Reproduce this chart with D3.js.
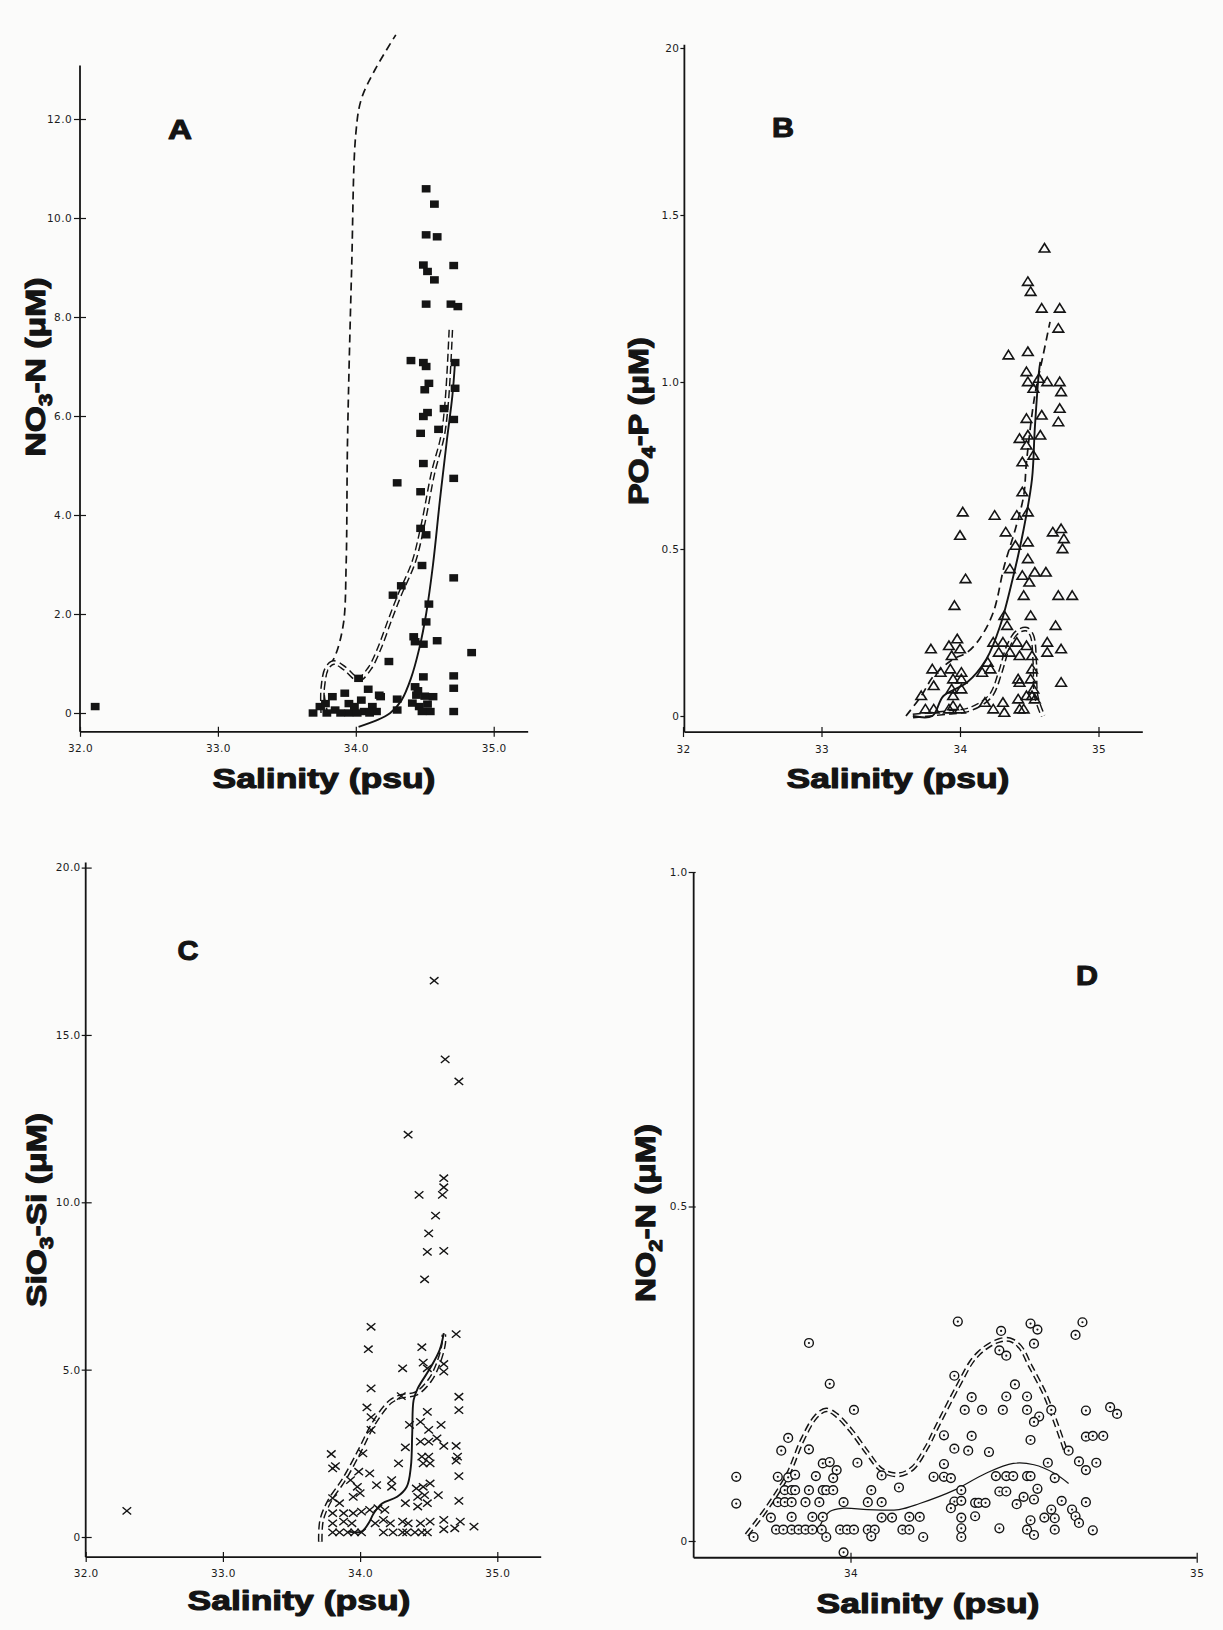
<!DOCTYPE html>
<html>
<head>
<meta charset="utf-8">
<script src="https://cdn.jsdelivr.net/npm/d3@7"></script>
<style>
  body { margin: 0; background: #fbfbfa; }
  svg { display: block; }
</style>
</head>
<body>
<svg id="fig" width="1223" height="1630"></svg>
<script>
// ---- tick values / labels ----
const nitrateTicks = [0, 2, 4, 6, 8, 10, 12];
const nitrateTickLabels = ["0", "2.0", "4.0", "6.0", "8.0", "10.0", "12.0"];
const phosphateTicks = [0, 0.5, 1, 1.5, 2];
const phosphateTickLabels = ["0", "0.5", "1.0", "1.5", "20"];
const silicateTicks = [0, 5, 10, 15, 20];
const silicateTickLabels = ["0", "5.0", "10.0", "15.0", "20.0"];
const nitriteTicks = [0, 0.5, 1];
const nitriteTickLabels = ["0", "0.5", "1.0"];
const salinityTicks = [32, 33, 34, 35];
const salinityTickLabelsA = ["32.0", "33.0", "34.0", "35.0"];
const salinityTickLabelsB = ["32", "33", "34", "35"];
const salinityTicksD = [34, 35];
const salinityTickLabelsD = ["34", "35"];

// ---- A: nitrate, [salinity, NO3-N] ----
const nitratePoints = [
  [32.11,0.13],
  [34.51,10.59],[34.57,10.28],[34.51,9.66],[34.59,9.62],[34.49,9.05],[34.52,8.92],[34.57,8.75],[34.71,9.04],
  [34.51,8.26],[34.69,8.26],[34.74,8.21],[34.40,7.12],[34.49,7.08],[34.51,7.00],[34.72,7.08],[34.72,6.56],
  [34.53,6.66],[34.50,6.53],[34.64,6.15],[34.71,5.93],[34.52,6.07],[34.49,5.99],[34.60,5.73],[34.47,5.65],
  [34.49,5.04],[34.30,4.65],[34.71,4.74],[34.47,4.47],[34.47,3.73],[34.51,3.60],[34.48,2.98],[34.71,2.73],
  [34.33,2.57],[34.27,2.38],[34.53,2.20],[34.51,1.84],[34.42,1.54],[34.43,1.44],[34.49,1.39],[34.59,1.46],
  [34.84,1.22],[34.24,1.04],[34.49,0.73],[34.71,0.75],[34.71,0.50],[34.02,0.70],[34.09,0.48],[34.17,0.36],
  [34.30,0.28],[34.43,0.53],[34.44,0.36],[34.50,0.34],[34.56,0.33],[34.46,0.13],[34.54,0.03],[34.48,0.03],
  [34.41,0.20],[34.52,0.18],[34.45,0.45],[34.71,0.03],[34.30,0.06],
  [33.69,0.00],[33.74,0.13],[33.78,0.19],[33.83,0.33],[33.85,0.06],[33.92,0.40],[33.95,0.19],[33.95,0.00],
  [33.99,0.13],[34.04,0.26],[34.06,0.03],[34.12,0.13],[34.15,0.03],[34.18,0.33],[33.79,0.00],[33.89,0.00],
  [34.01,0.00],[34.10,0.00]
];
const nitrateDashed = [[33.80,-0.05],[33.77,0.4],[33.79,0.85],[33.85,1.15],[33.91,1.8],[33.93,3.0],[33.94,5.5],
  [33.97,9.0],[34.00,11.7],[34.04,12.4],[34.14,13.0],[34.29,13.7]];
const nitrateDouble = [[33.76,0],[33.76,0.5],[33.79,0.9],[33.84,1.02],[33.92,0.9],[34.02,0.68],[34.10,0.9],
  [34.17,1.3],[34.25,1.9],[34.32,2.4],[34.42,3.05],[34.49,3.85],[34.56,4.85],[34.63,5.6],[34.66,6.3],[34.69,7.8]];
const nitrateSolid = [[34.02,-0.28],[34.15,-0.15],[34.25,0.0],[34.33,0.25],[34.40,0.7],[34.46,1.3],[34.51,2.0],
  [34.56,3.0],[34.61,4.3],[34.66,5.5],[34.70,6.4],[34.72,7.1]];

// ---- B: phosphate, [salinity, PO4-P] ----
const phosphatePoints = [
  [34.61,1.40],[34.49,1.30],[34.51,1.27],[34.59,1.22],[34.72,1.22],[34.71,1.16],[34.35,1.08],[34.49,1.09],
  [34.48,1.03],[34.49,1.00],[34.57,1.01],[34.63,1.00],[34.72,1.00],[34.73,0.97],[34.53,0.98],[34.72,0.92],
  [34.71,0.88],[34.48,0.89],[34.59,0.90],[34.43,0.83],[34.49,0.84],[34.58,0.84],[34.48,0.81],[34.53,0.78],
  [34.45,0.76],[34.45,0.67],[34.02,0.61],[34.25,0.60],[34.41,0.60],[34.49,0.61],[34.00,0.54],[34.33,0.55],
  [34.67,0.55],[34.73,0.56],[34.75,0.53],[34.74,0.50],[34.40,0.51],[34.49,0.52],[34.49,0.47],[34.36,0.44],
  [34.45,0.42],[34.54,0.43],[34.62,0.43],[34.50,0.40],[34.04,0.41],[34.46,0.36],[34.71,0.36],[34.81,0.36],
  [33.96,0.33],[34.51,0.30],[34.32,0.30],[34.34,0.27],[34.69,0.27],[33.79,0.20],[33.92,0.21],[33.98,0.23],
  [34.00,0.20],[33.94,0.18],[34.24,0.22],[34.31,0.22],[34.28,0.19],[34.36,0.19],[34.41,0.22],[34.43,0.18],
  [34.48,0.21],[34.52,0.18],[34.63,0.22],[34.63,0.19],[34.73,0.20],[33.80,0.14],[33.86,0.13],[33.93,0.14],
  [34.01,0.13],[33.81,0.09],[33.95,0.11],[33.94,0.08],[34.01,0.11],[34.01,0.08],[34.22,0.14],[34.16,0.13],
  [34.20,0.16],[34.42,0.11],[34.43,0.10],[34.51,0.11],[34.52,0.14],[34.53,0.08],[34.52,0.06],[34.73,0.10],
  [33.72,0.06],[33.75,0.02],[33.81,0.02],[33.92,0.02],[33.95,0.03],[34.00,0.02],[33.95,0.06],[34.18,0.04],
  [34.24,0.02],[34.31,0.04],[34.32,0.01],[34.42,0.05],[34.43,0.02],[34.46,0.02],[34.48,0.06],[34.54,0.05]
];
const phosphateDashed = [[33.61,0],[33.72,0.06],[33.81,0.12],[33.95,0.17],[34.05,0.19],[34.14,0.23],[34.24,0.31],
  [34.32,0.45],[34.40,0.56],[34.46,0.66],[34.48,0.76],[34.54,0.96],[34.60,1.08],[34.65,1.18]];
const phosphateSolid = [[33.66,0],[33.80,0.0],[33.88,0.06],[34.05,0.10],[34.19,0.17],[34.29,0.27],[34.38,0.41],
  [34.46,0.56],[34.52,0.71],[34.54,0.86],[34.57,1.03],[34.58,1.06]];
const phosphateDouble = [[33.66,0],[33.90,0.01],[34.07,0.02],[34.22,0.06],[34.29,0.13],[34.35,0.21],[34.41,0.25],
  [34.48,0.26],[34.52,0.24],[34.54,0.16],[34.55,0.06],[34.60,0.0]];

// ---- C: silicate, [salinity, SiO3-Si] ----
const silicatePoints = [
  [32.30,0.78],
  [34.54,16.62],[34.62,14.27],[34.72,13.61],[34.35,12.02],[34.61,10.72],[34.61,10.45],[34.60,10.22],[34.43,10.22],
  [34.55,9.60],[34.50,9.07],[34.49,8.52],[34.61,8.55],[34.47,7.70],[34.08,6.28],[34.06,5.61],[34.70,6.06],
  [34.45,5.67],[34.31,5.04],[34.46,5.21],[34.49,5.04],[34.61,5.17],[34.61,4.94],[34.08,4.44],[34.30,4.21],
  [34.72,4.19],[34.72,3.79],[34.05,3.87],[34.08,3.58],[34.49,3.74],[34.36,3.35],[34.44,3.44],[34.50,3.20],
  [34.59,3.35],[34.08,3.20],[34.56,2.95],[34.61,2.72],[34.44,2.85],[34.50,2.85],[34.33,2.68],[34.70,2.72],
  [34.71,2.40],[34.70,2.28],[33.79,2.48],[34.02,2.50],[33.80,2.05],[33.82,2.12],[34.45,2.40],[34.50,2.40],
  [34.46,2.20],[34.51,2.20],[34.28,2.20],[33.99,1.95],[34.07,1.90],[34.72,1.82],[34.23,1.70],[34.23,1.50],
  [34.12,1.55],[33.93,1.70],[33.98,1.50],[34.00,1.31],[34.41,1.45],[34.46,1.50],[34.51,1.60],[34.42,1.20],
  [34.47,1.25],[34.57,1.25],[34.72,1.08],[33.80,1.16],[33.85,1.01],[33.95,1.20],[34.49,1.01],[34.42,0.91],
  [34.33,1.01],[34.13,0.86],[34.18,0.81],[33.80,0.71],[33.88,0.71],[33.95,0.71],[34.01,0.76],[34.07,0.81],
  [33.80,0.41],[33.88,0.46],[33.94,0.41],[34.11,0.41],[34.22,0.41],[34.31,0.46],[34.35,0.41],[34.44,0.41],
  [34.51,0.46],[34.61,0.51],[34.73,0.46],[34.61,0.23],[34.69,0.26],[34.83,0.31],[34.17,0.51],
  [33.80,0.14],[33.85,0.14],[33.91,0.14],[33.96,0.14],[34.01,0.14],[34.17,0.14],[34.24,0.14],[34.31,0.14],
  [34.34,0.14],[34.40,0.14],[34.45,0.14],[34.49,0.14]
];
const silicateSolid = [[33.91,0.16],[34.01,0.16],[34.06,0.4],[34.10,0.71],[34.16,1.0],[34.27,1.2],[34.34,1.5],
  [34.37,2.1],[34.38,3.1],[34.39,4.09],[34.42,4.44],[34.51,5.04],[34.58,5.59],[34.61,6.09]];
const silicateDouble = [[33.71,-0.14],[33.72,0.51],[33.78,1.1],[33.88,1.7],[34.0,2.6],[34.10,3.4],[34.22,4.04],
  [34.29,4.19],[34.41,4.29],[34.51,4.69],[34.57,5.19],[34.61,5.79],[34.61,6.05]];

// ---- D: nitrite, [salinity, NO2-N] ----
const nitritePoints = [
  [33.88,0.296],[33.94,0.235],[34.01,0.196],[33.82,0.154],[33.80,0.135],[33.88,0.137],[33.92,0.116],[33.94,0.118],
  [34.02,0.117],[33.96,0.106],[33.67,0.096],[33.79,0.096],[33.82,0.095],[33.84,0.099],[33.90,0.097],[33.95,0.094],
  [34.09,0.098],[34.14,0.080],[33.81,0.076],[33.83,0.076],[33.84,0.076],[33.88,0.076],[33.92,0.076],[33.93,0.076],
  [33.95,0.076],[34.06,0.076],[33.67,0.056],[33.79,0.058],[33.81,0.058],[33.83,0.058],[33.87,0.058],[33.91,0.058],
  [33.98,0.058],[34.05,0.058],[34.09,0.058],[33.77,0.035],[33.83,0.036],[33.89,0.036],[33.92,0.036],[34.09,0.035],
  [34.12,0.035],[34.17,0.036],[34.20,0.036],[33.785,0.017],[33.806,0.017],[33.83,0.017],[33.85,0.017],[33.87,0.017],
  [33.89,0.017],[33.917,0.017],[33.97,0.017],[33.99,0.017],[34.01,0.017],[34.05,0.017],[34.07,0.017],[34.15,0.017],
  [34.17,0.017],[33.72,0.006],[33.93,0.006],[34.06,0.007],[34.21,0.006],[33.98,-0.017],
  [34.31,0.328],[34.435,0.314],[34.52,0.325],[34.54,0.316],[34.67,0.327],[34.65,0.308],[34.53,0.295],[34.43,0.285],
  [34.45,0.277],[34.30,0.247],[34.475,0.234],[34.35,0.215],[34.45,0.216],[34.51,0.216],[34.33,0.196],[34.38,0.196],
  [34.44,0.196],[34.51,0.196],[34.58,0.196],[34.68,0.195],[34.75,0.200],[34.77,0.190],[34.545,0.186],[34.53,0.178],
  [34.27,0.158],[34.35,0.157],[34.52,0.151],[34.63,0.135],[34.68,0.156],[34.70,0.157],[34.73,0.157],[34.30,0.138],
  [34.34,0.135],[34.40,0.133],[34.27,0.115],[34.57,0.117],[34.66,0.119],[34.68,0.106],[34.71,0.117],[34.24,0.096],
  [34.27,0.096],[34.29,0.094],[34.42,0.097],[34.45,0.097],[34.47,0.097],[34.51,0.097],[34.52,0.097],[34.59,0.094],
  [34.32,0.076],[34.43,0.074],[34.45,0.074],[34.54,0.078],[34.50,0.066],[34.48,0.055],[34.53,0.062],[34.61,0.060],
  [34.68,0.058],[34.30,0.059],[34.32,0.060],[34.29,0.049],[34.36,0.057],[34.37,0.057],[34.39,0.057],[34.32,0.035],
  [34.36,0.037],[34.58,0.047],[34.59,0.034],[34.56,0.035],[34.64,0.047],[34.65,0.037],[34.66,0.027],[34.52,0.031],
  [34.32,0.019],[34.32,0.006],[34.43,0.019],[34.51,0.017],[34.53,0.009],[34.59,0.017],[34.70,0.016]
];
const nitriteDouble = [[33.70,0.009],[33.76,0.05],[33.82,0.10],[33.86,0.15],[33.90,0.186],[33.93,0.196],[33.96,0.188],
  [34.0,0.166],[34.05,0.131],[34.09,0.106],[34.14,0.099],[34.18,0.109],[34.22,0.14],[34.25,0.171],[34.31,0.231],
  [34.36,0.275],[34.42,0.298],[34.46,0.301],[34.49,0.29],[34.52,0.261],[34.56,0.221],[34.59,0.181],[34.62,0.137]];
const nitriteSolid = [[33.91,0.021],[33.94,0.044],[33.98,0.049],[34.05,0.047],[34.14,0.047],[34.20,0.056],[34.30,0.076],
  [34.39,0.101],[34.47,0.116],[34.53,0.114],[34.59,0.101],[34.63,0.086]];

const ink = "#141414";
const paper = "#fbfbfa";
const svg = d3.select("#fig");
svg.append("rect").attr("width", 1223).attr("height", 1630).attr("fill", paper);

// Heavy label stretched to the width it has in the scan
function wideLabel(parent, parts, o) {
  let text = parent.append("text")
    .attr("font-family", "'Liberation Sans', Arial, sans-serif")
    .attr("font-weight", "bold")
    .attr("font-size", o.size)
    .attr("fill", ink)
    .attr("stroke", ink)
    .attr("stroke-width", 1.1)
    .attr("stroke-linejoin", "round");
  let shift = 0;
  parts.forEach(p => {
    let t = text.append("tspan").text(p.t);
    if (p.sub) {
      t.attr("font-size", o.size * 0.66).attr("dy", o.size * 0.24);
      shift = o.size * 0.24;
    } else if (shift) {
      t.attr("dy", -shift);
      shift = 0;
    }
  });
  let w = text.node().getBBox().width;
  let sx = o.width / w;
  text.attr("transform", `translate(${o.x},${o.y}) rotate(${o.rotate || 0}) scale(${sx},1) translate(${-w / 2},0)`);
}

const markers = {
  square: (g, x, y) => g.append("rect").attr("x", x - 4.4).attr("y", y - 3.7).attr("width", 8.8).attr("height", 7.4).attr("fill", ink),
  triangle: (g, x, y) => g.append("path").attr("d", `M${x},${y - 4.9}L${x + 5.3},${y + 3.6}L${x - 5.3},${y + 3.6}Z`)
    .attr("fill", "none").attr("stroke", ink).attr("stroke-width", 1.6),
  cross: (g, x, y) => g.append("path").attr("d", `M${x - 4.3},${y - 3.6}L${x + 4.3},${y + 3.6}M${x - 4.3},${y + 3.6}L${x + 4.3},${y - 3.6}`)
    .attr("stroke", ink).attr("stroke-width", 1.4),
  dotCircle: (g, x, y) => {
    g.append("circle").attr("cx", x).attr("cy", y).attr("r", 4.4).attr("fill", paper).attr("stroke", ink).attr("stroke-width", 1.4);
    g.append("circle").attr("cx", x).attr("cy", y).attr("r", 1.1).attr("fill", ink);
  }
};

function drawPanel(p) {
  let g = svg.append("g");
  let x = d3.scaleLinear().domain(p.xDomain).range(p.xRange);
  let y = d3.scaleLinear().domain(p.yDomain).range(p.yRange);
  let line = d3.line().x(d => x(d[0])).y(d => y(d[1])).curve(d3.curveCatmullRom.alpha(0.5));

  // curves under the symbols
  p.curves.forEach(c => {
    if (c.kind === "double") {
      g.append("path").attr("d", line(c.data)).attr("fill", "none").attr("stroke", ink)
        .attr("stroke-width", 4.8).attr("stroke-dasharray", "8,4");
      g.append("path").attr("d", line(c.data)).attr("fill", "none").attr("stroke", paper).attr("stroke-width", 1.9);
    } else if (c.kind === "dashed") {
      g.append("path").attr("d", line(c.data)).attr("fill", "none").attr("stroke", ink)
        .attr("stroke-width", 1.7).attr("stroke-dasharray", "8,5");
    } else {
      g.append("path").attr("d", line(c.data)).attr("fill", "none").attr("stroke", ink)
        .attr("stroke-width", c.width || 1.9);
    }
  });

  p.points.forEach(d => markers[p.marker](g, x(d[0]), y(d[1])));

  // axes
  let x0 = x(p.xExtent[0]), yBase = y(p.yExtent[0]);
  g.append("line").attr("x1", x0).attr("x2", x0).attr("y1", yBase).attr("y2", y(p.yExtent[1]))
    .attr("stroke", ink).attr("stroke-width", 1.8);
  g.append("line").attr("x1", x0).attr("x2", x(p.xExtent[1])).attr("y1", yBase).attr("y2", yBase)
    .attr("stroke", ink).attr("stroke-width", 1.8);

  let yAxis = d3.axisLeft(y).tickValues(p.yTicks).tickFormat((d, i) => p.yTickLabels[i])
    .tickSize(p.yTickIn).tickPadding(p.yTickPad);
  let ya = g.append("g").attr("transform", `translate(${x0},0)`).call(yAxis);
  ya.select(".domain").remove();
  ya.selectAll("line").attr("x1", p.yTickOut).attr("stroke", ink).attr("stroke-width", 1.2);

  let xAxis = d3.axisBottom(x).tickValues(p.xTicks).tickFormat((d, i) => p.xTickLabels[i])
    .tickSize(5).tickPadding(p.xTickPad);
  let xa = g.append("g").attr("transform", `translate(0,${yBase})`).call(xAxis);
  xa.select(".domain").remove();
  xa.selectAll("line").attr("y1", -5).attr("stroke", ink).attr("stroke-width", 1.2);

  g.selectAll(".tick text").attr("font-family", "'DejaVu Sans', sans-serif").attr("font-size", 10.5)
    .attr("fill", "#1c1c1c").attr("letter-spacing", 0.4);

  wideLabel(g, [{t: p.letter}], {x: p.letterAt[0], y: p.letterAt[1], size: 28, width: p.letterAt[2]});
  wideLabel(g, [{t: "Salinity (psu)"}], {x: p.xLabelAt[0], y: p.xLabelAt[1], size: 28, width: 223});
  wideLabel(g, p.yLabel, {x: p.yLabelAt[0], y: p.yLabelAt[1], size: 28, width: p.yLabelAt[2], rotate: -90});
}

drawPanel({
  xDomain: [32, 35], xRange: [80, 493.7], yDomain: [0, 12], yRange: [713, 119],
  xExtent: [32, 35.25], yExtent: [-0.38, 13.08],
  yTicks: nitrateTicks, yTickLabels: nitrateTickLabels, yTickIn: 6, yTickOut: 6, yTickPad: 2,
  xTicks: salinityTicks, xTickLabels: salinityTickLabelsA, xTickPad: 8,
  points: nitratePoints, marker: "square",
  curves: [{kind: "dashed", data: nitrateDashed}, {kind: "double", data: nitrateDouble}, {kind: "solid", data: nitrateSolid}],
  letter: "A", letterAt: [180, 139, 24],
  xLabelAt: [324, 788],
  yLabel: [{t: "NO"}, {t: "3", sub: true}, {t: "-N (μM)"}], yLabelAt: [45, 367, 179]
});

drawPanel({
  xDomain: [32, 35], xRange: [683, 1098.5], yDomain: [0, 2], yRange: [716, 48],
  xExtent: [32.01, 35.32], yExtent: [-0.048, 2.01],
  yTicks: phosphateTicks, yTickLabels: phosphateTickLabels, yTickIn: 4, yTickOut: 0, yTickPad: 1,
  xTicks: salinityTicks, xTickLabels: salinityTickLabelsB, xTickPad: 9,
  points: phosphatePoints, marker: "triangle",
  curves: [{kind: "dashed", data: phosphateDashed}, {kind: "double", data: phosphateDouble}, {kind: "solid", data: phosphateSolid}],
  letter: "B", letterAt: [783, 137, 22],
  xLabelAt: [898, 788],
  yLabel: [{t: "PO"}, {t: "4", sub: true}, {t: "-P (μM)"}], yLabelAt: [648, 421, 168]
});

drawPanel({
  xDomain: [32, 35], xRange: [85.7, 497.3], yDomain: [0, 20], yRange: [1537, 867.6],
  xExtent: [32, 35.32], yExtent: [-0.6, 20.15],
  yTicks: silicateTicks, yTickLabels: silicateTickLabels, yTickIn: 4, yTickOut: 6, yTickPad: 1,
  xTicks: salinityTicks, xTickLabels: salinityTickLabelsA, xTickPad: 7,
  points: silicatePoints, marker: "cross",
  curves: [{kind: "double", data: silicateDouble}, {kind: "solid", data: silicateSolid}],
  letter: "C", letterAt: [188, 960, 21],
  xLabelAt: [299, 1610],
  yLabel: [{t: "SiO"}, {t: "3", sub: true}, {t: "-Si (μM)"}], yLabelAt: [46, 1210, 194]
});

drawPanel({
  xDomain: [34, 35], xRange: [850.5, 1196.7], yDomain: [0, 1], yRange: [1541, 872],
  xExtent: [33.547, 35], yExtent: [-0.025, 1.0],
  yTicks: nitriteTicks, yTickLabels: nitriteTickLabels, yTickIn: 5, yTickOut: 2, yTickPad: 1,
  xTicks: salinityTicksD, xTickLabels: salinityTickLabelsD, xTickPad: 7,
  points: nitritePoints, marker: "dotCircle",
  curves: [{kind: "double", data: nitriteDouble}, {kind: "solid", data: nitriteSolid, width: 1.2}],
  letter: "D", letterAt: [1087, 985, 22],
  xLabelAt: [928, 1613],
  yLabel: [{t: "NO"}, {t: "2", sub: true}, {t: "-N (μM)"}], yLabelAt: [655, 1213, 178]
});
</script>
</body>
</html>
